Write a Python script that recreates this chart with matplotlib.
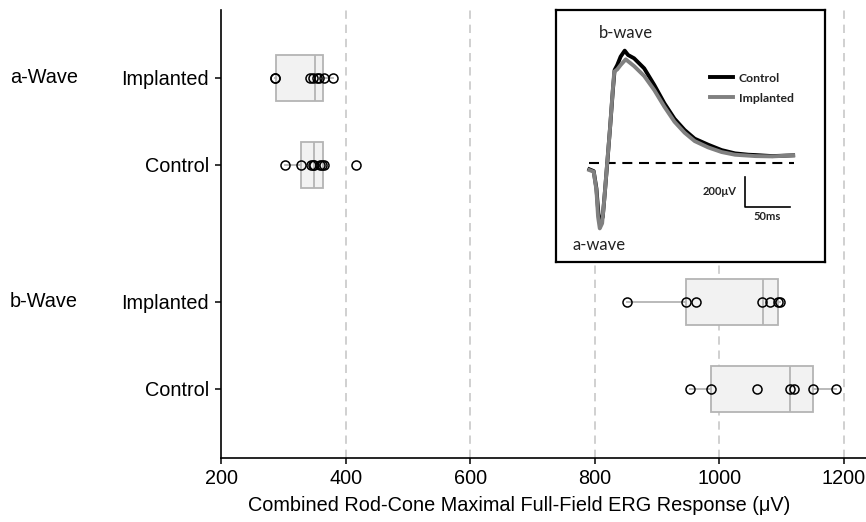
import matplotlib
matplotlib.use("Agg")
import matplotlib.pyplot as plt
import matplotlib.transforms as mtransforms
import numpy as np

# ---------------- data ----------------
row_labels = ["Implanted", "Control", "Implanted", "Control"]
group_labels = ["a-Wave", "b-Wave"]

a_impl = [287, 287, 343, 348, 354, 357, 365, 380]
a_ctrl = [302, 328, 345, 348, 350, 359, 362, 365, 417]
b_impl = [851, 946, 962, 1069, 1081, 1094, 1097]
b_ctrl = [953, 986, 1060, 1114, 1119, 1150, 1187]

# box statistics as drawn in the figure
box_q1 = [288, 328, 946, 986]
box_med = [351, 349, 1070, 1114]
box_q3 = [364, 364, 1094, 1151]
box_lo = [287, 302, 851, 953]
box_hi = [380, 365, 1097, 1187]

xticks = [200, 400, 600, 800, 1000, 1200]
grid_x = [400, 600, 800, 1000, 1200]

# inset ERG traces (time in ms, amplitude in uV)
t_ctrl = [0, 4.8, 7.8, 10, 12.2, 14.8, 17, 20, 22.9, 25.9, 27.8, 30.7, 34.4, 38.9,
          42.6, 49.2, 60.3, 71.4, 82.5, 93.6, 104.7, 115.8, 130.6, 145.4, 160.2,
          175, 182.4, 201, 224]
v_ctrl = [-44, -56, -171, -338, -404, -360, -204, 18, 240, 484, 618, 651, 707, 747,
          718, 696, 629, 518, 396, 293, 218, 160, 120, 84, 62, 53, 51, 44, 49]
t_impl = [0, 4.8, 7.8, 9.6, 11.5, 14.1, 16.7, 19.6, 22.6, 25.5, 27.4, 30.7, 34.4,
          40, 49.2, 60.3, 71.4, 82.5, 93.6, 104.7, 115.8, 130.6, 145.4, 160.2,
          182.4, 201, 224]
v_impl = [-49, -60, -182, -360, -438, -404, -227, -4, 218, 462, 607, 622, 651,
          689, 644, 578, 484, 373, 273, 200, 144, 102, 71, 53, 44, 42, 49]
baseline_t = [0, 225]
baseline_v = [0, 0]
scalebar_t = [170.6, 170.6, 220.5]
scalebar_v = [-93, -293, -293]

# ---------------- figure ----------------
plt.rcParams['font.family'] = ['Liberation Sans', 'DejaVu Sans']
FS = 14.3
fig = plt.figure(figsize=(8.66, 5.22), dpi=100)
ax = fig.add_axes([221/866, 1-458/522, 1-221/866, (458-10)/522])

rows = [0, 1, 2.575, 3.575]
box_col = '#b4b4b4'
stats = []
for i in range(4):
    stats.append(dict(med=box_med[i], q1=box_q1[i], q3=box_q3[i],
                      whislo=box_lo[i], whishi=box_hi[i], fliers=[]))
ax.bxp(stats, positions=rows, vert=False, widths=0.53, patch_artist=True,
       showfliers=False, showcaps=False,
       boxprops=dict(facecolor='#f2f2f2', edgecolor=box_col, linewidth=1.3),
       medianprops=dict(color=box_col, linewidth=1.3),
       whiskerprops=dict(color=box_col, linewidth=1.3), zorder=3)

for pos, vals in zip(rows, [a_impl, a_ctrl, b_impl, b_ctrl]):
    ax.plot(vals, [pos]*len(vals), linestyle='none', marker='o', markersize=6.5,
            markerfacecolor='none', markeredgecolor='black', markeredgewidth=1.1,
            zorder=4)

for gx in grid_x:
    ax.axvline(gx, color='#c8c8c8', linewidth=1.2, linestyle=(0, (5, 3.5)), zorder=1)

ax.set_xlim(200, 200 + (866-221)/0.623)
ax.set_ylim(4.37, -0.78)
ax.set_xticks(xticks)
ax.set_xticklabels([str(v) for v in xticks], fontsize=FS)
ax.set_yticks(rows)
ax.set_yticklabels(row_labels, fontsize=FS)
ax.tick_params(axis='x', length=4.5, width=1.1, pad=3.6)
ax.tick_params(axis='y', length=4.5, width=1.1, pad=4)
ax.spines['top'].set_visible(False)
ax.spines['right'].set_visible(False)
ax.spines['left'].set_linewidth(1.2)
ax.spines['bottom'].set_linewidth(1.2)
ax.set_xlabel("Combined Rod-Cone Maximal Full-Field ERG Response (\u03bcV)", fontsize=FS)
ax.xaxis.set_label_coords(0.462, -0.085)

trans = mtransforms.blended_transform_factory(ax.transAxes, ax.transData)
for lab, pos in zip(group_labels, [rows[0], rows[2]]):
    ax.text(-(221-10)/645, pos, lab, transform=trans, ha='left', va='center', fontsize=FS)

# ---------------- inset ----------------
ins = fig.add_axes([556/866, 1-262/522, (825-556)/866, (262-10)/522])
ins.set_facecolor('white')
for s in ins.spines.values():
    s.set_linewidth(1.6)
    s.set_color('black')
ins.set_xticks([])
ins.set_yticks([])
ins.set_xlim(-36.6, 259)
ins.set_ylim(-662, 1018)
ins.plot(baseline_t, baseline_v, color='black', linewidth=1.5, dashes=(4.8, 3.2))
ins.plot(t_ctrl, v_ctrl, color='black', linewidth=2.8, label='Control', solid_joinstyle='round')
ins.plot(t_impl, v_impl, color='#808080', linewidth=2.8, label='Implanted', solid_joinstyle='round')
ins.plot(scalebar_t, scalebar_v, color='black', linewidth=1.2)

ifont = ['Lato', 'DejaVu Sans']
ins.text(40, 862, 'b-wave', ha='center', va='center', fontsize=12, family=ifont, color='#222222')
ins.text(10.4, -549, 'a-wave', ha='center', va='center', fontsize=12, family=ifont, color='#222222')
ins.text(162, -193, '200\u03bcV', ha='right', va='center', fontsize=8, family=ifont, fontweight='bold', color='#222222')
ins.text(195.5, -358, '50ms', ha='center', va='center', fontsize=8, family=ifont, fontweight='bold', color='#222222')
leg = ins.legend(loc='center left', bbox_to_anchor=(0.53, 0.69), frameon=False,
                 handlelength=1.9, handletextpad=0.5, labelspacing=0.75,
                 prop=dict(family=ifont, size=8.8, weight='bold'))
for t in leg.get_texts():
    t.set_color('#222222')

fig.savefig('out.png', dpi=100)
